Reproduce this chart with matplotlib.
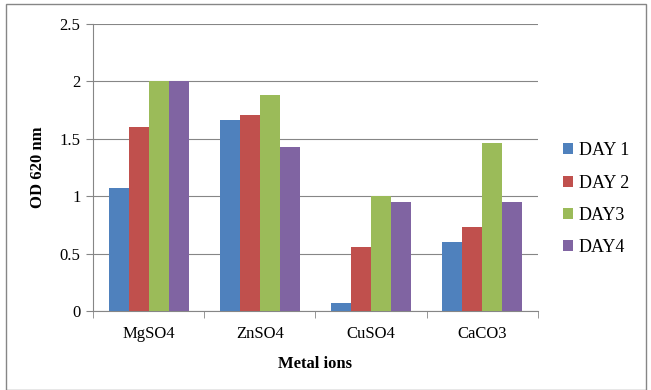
import numpy as np
import matplotlib.pyplot as plt
from matplotlib.patches import Rectangle

plt.rcParams['font.family'] = ['Liberation Serif', 'DejaVu Serif']

metals = ['MgSO4', 'ZnSO4', 'CuSO4', 'CaCO3']
days = ['DAY 1', 'DAY 2', 'DAY3', 'DAY4']
day1 = [1.07, 1.66, 0.07, 0.60]
day2 = [1.60, 1.71, 0.56, 0.73]
day3 = [2.00, 1.88, 1.00, 1.46]
day4 = [2.00, 1.43, 0.95, 0.95]
colors = ['#4F81BD', '#C0504D', '#9BBB59', '#8064A2']

fig = plt.figure(figsize=(6.51, 3.90), dpi=100)
ax = fig.add_axes([93 / 651, 1 - 311 / 390, 445 / 651, 287 / 390])

x = np.arange(len(metals))
w = 0.18
for i, (vals, lab) in enumerate(zip([day1, day2, day3, day4], days)):
    ax.bar(x + (i - 1.5) * w, vals, w, color=colors[i], label=lab, zorder=3)

ax.set_xlim(-0.5, 3.5)
ax.set_ylim(0, 2.5)
ax.set_yticks([0, 0.5, 1, 1.5, 2, 2.5])
ax.set_yticklabels(['0', '0.5', '1', '1.5', '2', '2.5'])
ax.set_xticks(x)
ax.set_xticklabels(metals)
ax.set_xticks(np.arange(-0.5, 4, 1), minor=True)
ax.tick_params(axis='x', which='major', length=0, labelsize=12, pad=11)
ax.tick_params(axis='x', which='minor', length=5, color='#868686', direction='out')
ax.tick_params(axis='y', length=5, color='#868686', labelsize=12, pad=4)
ax.yaxis.grid(True, color='#868686', linewidth=0.8, zorder=0)

for s in ['top', 'right']:
    ax.spines[s].set_visible(False)
for s in ['left', 'bottom']:
    ax.spines[s].set_color('#868686')
    ax.spines[s].set_linewidth(0.8)

ax.set_ylabel('OD 620 nm', fontsize=12, fontweight='bold', labelpad=10)
ax.set_xlabel('Metal ions', fontsize=12, fontweight='bold', labelpad=10)

ax.legend(loc='upper left', bbox_to_anchor=(556 / 651, 1 - 135 / 390),
          bbox_transform=fig.transFigure, frameon=False, fontsize=13,
          handlelength=0.55, handleheight=0.55, handletextpad=0.3,
          labelspacing=0.85, borderaxespad=0)

# outer chart border
fig.patches.append(Rectangle((6 / 651, 0), 640 / 651, 1 - 4 / 390,
                             transform=fig.transFigure, fill=False,
                             edgecolor='#868686', linewidth=1))

fig.savefig('out.png', dpi=100)
